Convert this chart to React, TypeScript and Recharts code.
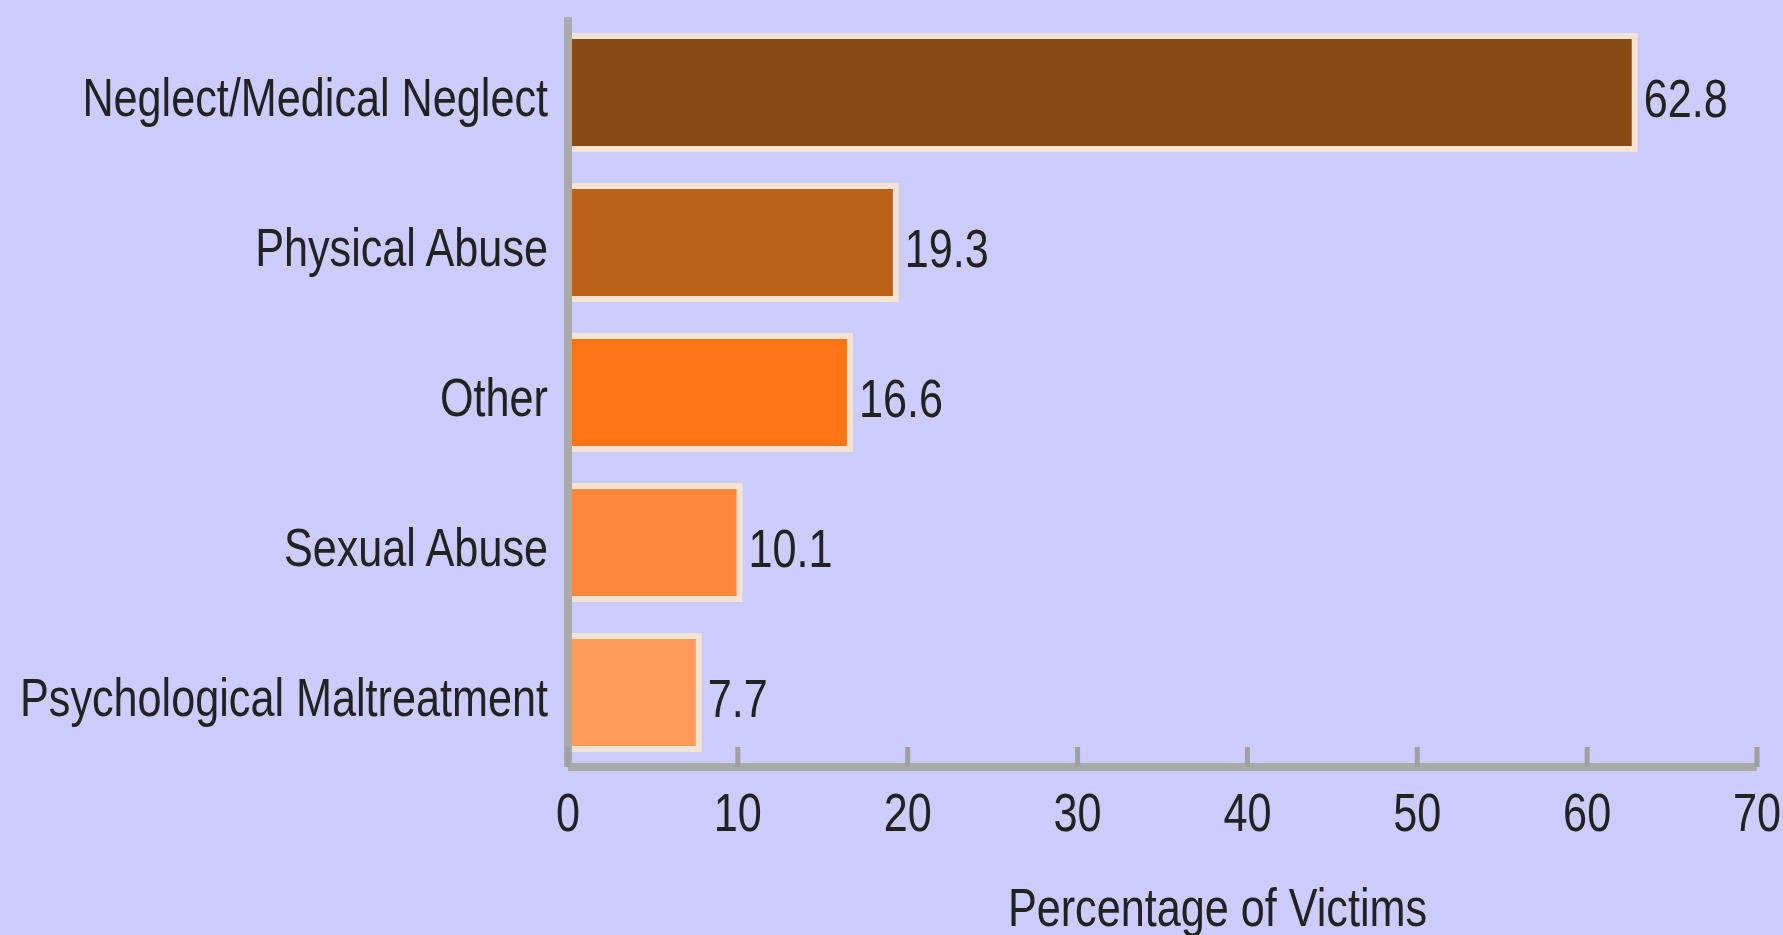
import React from "react";
import { BarChart, Bar, XAxis, YAxis, Cell, LabelList } from "recharts";

const categories = [
  "Neglect/Medical Neglect",
  "Physical Abuse",
  "Other",
  "Sexual Abuse",
  "Psychological Maltreatment",
];
const percentages = [62.8, 19.3, 16.6, 10.1, 7.7];
const barColors = ["#8A4A15", "#BC6118", "#FF7516", "#FF883C", "#FF9C5A"];
const xTicks = [0, 10, 20, 30, 40, 50, 60, 70];

const data = categories.map((name, i) => ({ name, value: percentages[i] }));

const FONT = "'Liberation Sans', Arial, sans-serif";
const TEXT = "#222";
const FS = 54;
const SQUISH = 0.8; // reference type is tall and narrow

// text squeezed horizontally around its anchor point
function Narrow({ x, y, anchor, children }: any) {
  return (
    <text
      transform={`translate(${x},${y}) scale(${SQUISH},1)`}
      x={0}
      y={0}
      textAnchor={anchor}
      fontSize={FS}
      fontFamily={FONT}
      fill={TEXT}
    >
      {children}
    </text>
  );
}

// tick marks point up into the plot, labels sit below the axis
function XTick({ x, y, payload }: any) {
  return (
    <g>
      <line x1={x} x2={x} y1={y - 20} y2={y} stroke="#a0a0a0" strokeWidth={5} />
      <Narrow x={x} y={y + 64} anchor="middle">
        {payload.value}
      </Narrow>
    </g>
  );
}

function YTick({ x, y, payload }: any) {
  return (
    <Narrow x={x} y={y + 24} anchor="end">
      {payload.value}
    </Narrow>
  );
}

function ValueLabel({ x, y, width, height, value }: any) {
  return (
    <Narrow x={x + width + 9} y={y + height / 2 + 24} anchor="start">
      {value}
    </Narrow>
  );
}

function AxisTitle({ viewBox }: any) {
  const cx = viewBox.x + viewBox.width / 2 + 55;
  return (
    <Narrow x={cx} y={926} anchor="middle">
      Percentage of Victims
    </Narrow>
  );
}

export default function App() {
  return (
    <div
      style={{
        position: "fixed",
        left: 0,
        top: 0,
        width: 1783,
        height: 935,
        background: "#CCCCFF",
      }}
    >
      <BarChart
        width={1783}
        height={935}
        data={data}
        layout="vertical"
        margin={{ top: 17, right: 26, left: 0, bottom: 0 }}
      >
        <XAxis
          type="number"
          domain={[0, 70]}
          ticks={xTicks}
          tickLine={false}
          tickSize={0}
          tickMargin={0}
          tick={<XTick />}
          height={168}
          axisLine={{ stroke: "#aaaaaa", strokeWidth: 8 }}
          label={<AxisTitle />}
        />
        <YAxis
          type="category"
          dataKey="name"
          width={568}
          tickLine={false}
          tickSize={0}
          tickMargin={20}
          axisLine={{ stroke: "#aaaaaa", strokeWidth: 8 }}
          tick={<YTick />}
        />
        <Bar
          dataKey="value"
          barSize={113}
          stroke="#F5E4D6"
          strokeWidth={6}
          isAnimationActive={false}
        >
          {data.map((d, i) => (
            <Cell key={d.name} fill={barColors[i]} />
          ))}
          <LabelList dataKey="value" content={<ValueLabel />} />
        </Bar>
      </BarChart>
    </div>
  );
}
